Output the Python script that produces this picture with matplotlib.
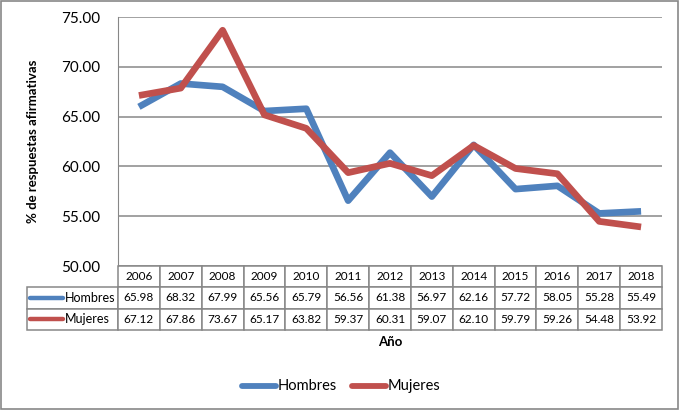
import matplotlib
matplotlib.use("Agg")
import matplotlib.pyplot as plt
from matplotlib.table import Table
from matplotlib.patches import Rectangle
from matplotlib.lines import Line2D

plt.rcParams['font.family'] = ['Lato', 'DejaVu Sans']

years = ['2006', '2007', '2008', '2009', '2010', '2011', '2012', '2013',
         '2014', '2015', '2016', '2017', '2018']
hombres = [65.98, 68.32, 67.99, 65.56, 65.79, 56.56, 61.38, 56.97,
           62.16, 57.72, 58.05, 55.28, 55.49]
mujeres = [67.12, 67.86, 73.67, 65.17, 63.82, 59.37, 60.31, 59.07,
           62.10, 59.79, 59.26, 54.48, 53.92]
series_names = ['Hombres', 'Mujeres']
yticks = [50, 55, 60, 65, 70, 75]

blue = '#4F81BD'
red = '#C0504D'
grid_c = '#878787'

W, H = 680, 412
fig = plt.figure(figsize=(W / 100, H / 100), dpi=100)
L, R, T, B = 118, 662, 17, 266
ax = fig.add_axes([L / W, 1 - B / H, (R - L) / W, (B - T) / H])

x = list(range(len(years)))
ax.plot(x, hombres, color=blue, lw=4.8, solid_capstyle='butt', solid_joinstyle='round', zorder=3)
ax.plot(x, mujeres, color=red, lw=4.8, solid_capstyle='butt', solid_joinstyle='round', zorder=4)
ax.set_xlim(-0.5, len(years) - 0.5)
ax.set_ylim(50, 75)
ax.set_yticks(yticks)
ax.set_yticklabels([f"{v:.2f}" for v in yticks], fontsize=11)
ax.set_xticks([])
ax.grid(axis='y', color=grid_c, lw=1.1)
ax.set_axisbelow(True)
for s in ['top', 'right', 'bottom']:
    ax.spines[s].set_visible(False)
ax.spines['left'].set_color(grid_c)
ax.tick_params(axis='y', length=0, pad=13)

ax.set_ylabel('% de respuestas afirmativas', fontsize=9.5, fontweight='bold', labelpad=16)

# data table (column 0 = row-label column, columns 1.. = years)
pw = R - L
ph = B - T
lab_w = (118 - 27) / pw
col_w = 1.0 / len(years)
row_h = 21.3
rh = row_h / ph
tbl = Table(ax, bbox=[(27 - L) / pw, -3 * rh, (R - 27) / pw, 3 * rh])
for j, yr in enumerate(years):
    tbl.add_cell(0, j + 1, width=col_w, height=rh, text=yr, loc='center')
for i, vals in enumerate([hombres, mujeres]):
    tbl.add_cell(i + 1, 0, width=lab_w, height=rh, text='', loc='center')
    for j, v in enumerate(vals):
        tbl.add_cell(i + 1, j + 1, width=col_w, height=rh, text=f"{v:.2f}", loc='center')
tbl.auto_set_font_size(False)
tbl.set_fontsize(8.5)
ax.add_table(tbl)
tbl.set_clip_on(False)
for cell in tbl.get_celld().values():
    cell.set_edgecolor(grid_c)
    cell.set_linewidth(1.1)
    cell.set_clip_on(False)
    cell.get_text().set_clip_on(False)

# row labels with legend keys
for i, (name, col) in enumerate(zip(series_names, [blue, red])):
    yc = 1 - (266 + row_h * (i + 1.5)) / H
    fig.add_artist(Line2D([30 / W, 63 / W], [yc, yc], color=col, lw=3.2,
                          solid_capstyle='round', transform=fig.transFigure))
    fig.text(65 / W, yc, name, fontsize=9, va='center', ha='left')

fig.text(390 / W, 1 - 342 / H, 'Año', fontsize=9.5, fontweight='bold', ha='center', va='center')

# bottom legend
ly = 1 - 386 / H
for name, col, x0 in zip(series_names, [blue, red], [242, 352]):
    fig.add_artist(Line2D([x0 / W, (x0 + 34) / W], [ly, ly], color=col, lw=4.2,
                          solid_capstyle='round', transform=fig.transFigure))
    fig.text((x0 + 36) / W, ly, name, fontsize=10.5, va='center', ha='left')

# outer frame
fig.add_artist(Rectangle((1 / W, 1 - 409 / H), 677 / W, 408 / H, fill=False,
                         edgecolor=grid_c, lw=1.2, transform=fig.transFigure))

fig.savefig('out.png', dpi=100)
